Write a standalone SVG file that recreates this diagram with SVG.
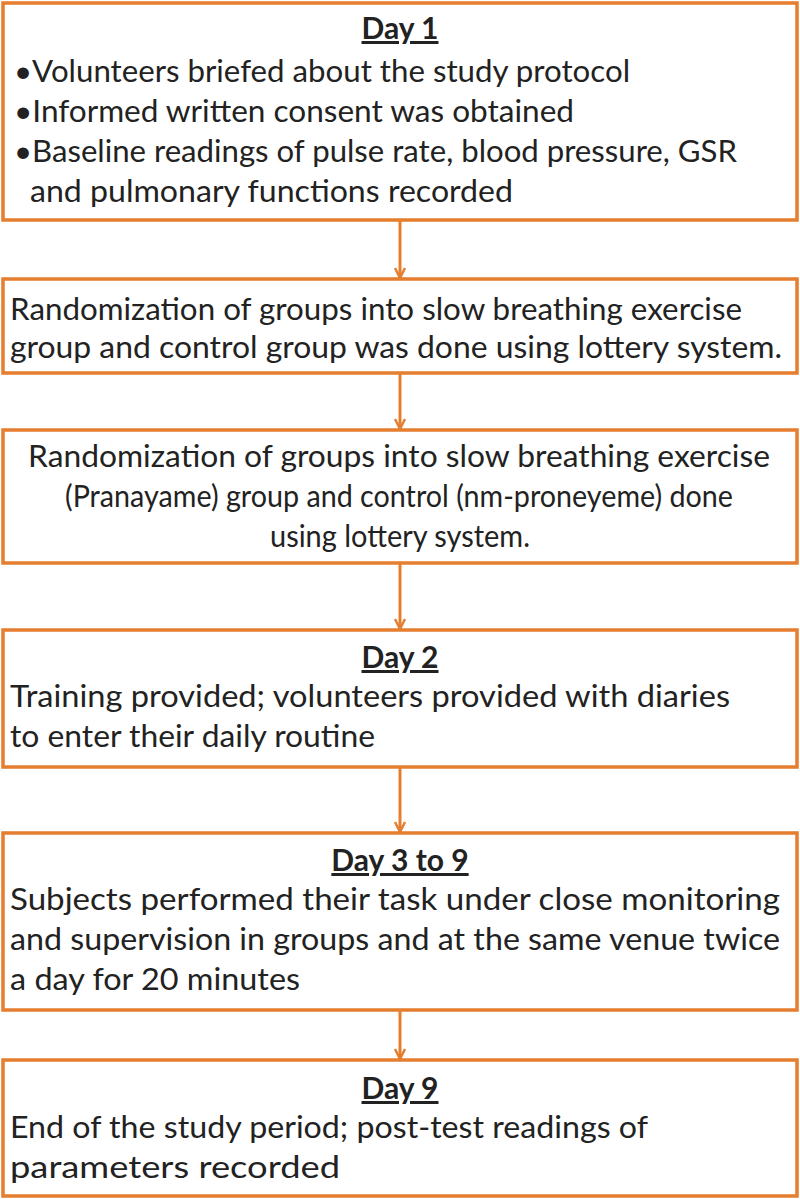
<svg xmlns="http://www.w3.org/2000/svg" width="800" height="1199" viewBox="0 0 800 1199">
<style>
.b{fill:#fff;stroke:#E57E2E;stroke-width:3.5}
.t{font-family:Lato,"Open Sans",sans-serif;font-size:30px;fill:#222}
.h{font-weight:bold;text-decoration:underline;text-anchor:middle}
.c{stroke:#E57E2E;stroke-width:3;fill:none}
</style>
<defs><marker id="a" viewBox="0 0 12 12" refX="11" refY="6" markerWidth="12" markerHeight="12" markerUnits="userSpaceOnUse" orient="auto"><path d="M1,1 L11,6 L1,11" fill="none" stroke="#E57E2E" stroke-width="2.5"/></marker></defs>
<rect width="800" height="1199" fill="#fff"/>
<g id="connectors">
<line class="c" x1="400" y1="220" x2="400" y2="278" marker-end="url(#a)"/>
<line class="c" x1="400" y1="373" x2="400" y2="429" marker-end="url(#a)"/>
<line class="c" x1="400" y1="563" x2="400" y2="629" marker-end="url(#a)"/>
<line class="c" x1="400" y1="767" x2="400" y2="832" marker-end="url(#a)"/>
<line class="c" x1="400" y1="1010" x2="400" y2="1059" marker-end="url(#a)"/>
</g>
<g id="n1"><rect class="b" x="3" y="3" width="794" height="217"/>
<text class="t h" x="400" y="39">Day 1</text>
<text class="t" x="14" y="82" textLength="616" lengthAdjust="spacingAndGlyphs">•Volunteers briefed about the study protocol</text>
<text class="t" x="14" y="122" textLength="560" lengthAdjust="spacingAndGlyphs">•Informed written  consent was obtained</text>
<text class="t" x="14" y="162" textLength="723" lengthAdjust="spacingAndGlyphs">•Baseline readings of pulse rate, blood pressure, GSR</text>
<text class="t" x="30" y="202" textLength="483" lengthAdjust="spacingAndGlyphs">and pulmonary functions  recorded</text></g>
<g id="n2"><rect class="b" x="3" y="279" width="794" height="94"/>
<text class="t" x="10" y="320" textLength="732" lengthAdjust="spacingAndGlyphs">Randomization of groups into slow breathing exercise</text>
<text class="t" x="10" y="358" textLength="772" lengthAdjust="spacingAndGlyphs">group and control group was done using lottery system.</text></g>
<g id="n3"><rect class="b" x="3" y="430" width="794" height="133"/>
<text class="t" x="28" y="467" textLength="742" lengthAdjust="spacingAndGlyphs">Randomization of groups into slow breathing exercise</text>
<text class="t" x="65" y="507" textLength="668" lengthAdjust="spacingAndGlyphs">(Pranayame) group and control (nm-proneyeme) done</text>
<text class="t" x="270" y="547" textLength="260" lengthAdjust="spacingAndGlyphs">using lottery system.</text></g>
<g id="n4"><rect class="b" x="3" y="630" width="794" height="137"/>
<text class="t h" x="400" y="668">Day 2</text>
<text class="t" x="10" y="707" textLength="720" lengthAdjust="spacingAndGlyphs">Training  provided; volunteers  provided with diaries</text>
<text class="t" x="10" y="747" textLength="365" lengthAdjust="spacingAndGlyphs">to enter their daily routine</text></g>
<g id="n5"><rect class="b" x="3" y="833" width="794" height="177"/>
<text class="t h" x="400" y="871">Day 3 to 9</text>
<text class="t" x="10" y="910" textLength="770" lengthAdjust="spacingAndGlyphs">Subjects performed their task under close monitoring</text>
<text class="t" x="10" y="950" textLength="770" lengthAdjust="spacingAndGlyphs">and supervision in groups and at the same venue twice</text>
<text class="t" x="10" y="990" textLength="290" lengthAdjust="spacingAndGlyphs">a day for 20 minutes</text></g>
<g id="n6"><rect class="b" x="3" y="1060" width="794" height="136"/>
<text class="t h" x="400" y="1099">Day 9</text>
<text class="t" x="10" y="1138" textLength="638" lengthAdjust="spacingAndGlyphs">End of the study period; post-test readings of</text>
<text class="t" x="10" y="1178" textLength="330" lengthAdjust="spacingAndGlyphs">parameters recorded</text></g>
</svg>
